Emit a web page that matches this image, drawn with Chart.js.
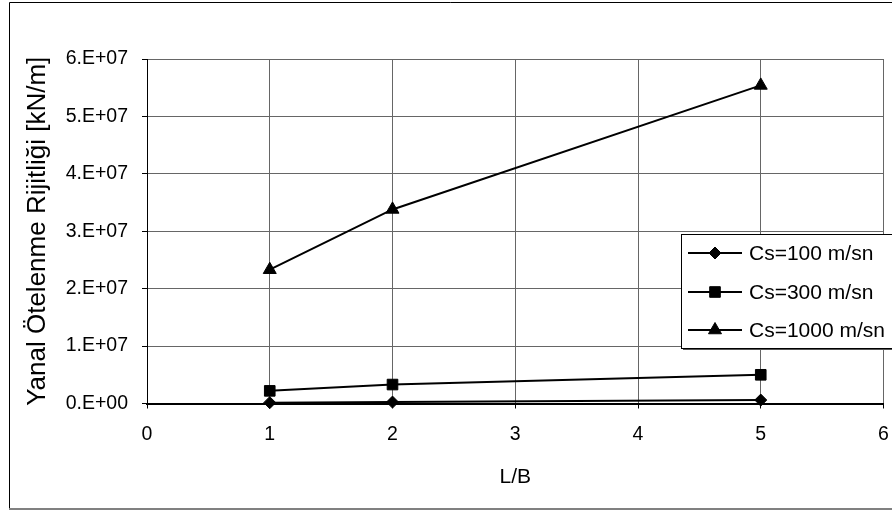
<!DOCTYPE html>
<html>
<head>
<meta charset="utf-8">
<script src="https://cdn.jsdelivr.net/npm/chart.js@4/dist/chart.umd.min.js"></script>
<style>
  html, body { margin: 0; padding: 0; background: #fff; }
  #wrap { width: 892px; height: 510px; position: relative; }
</style>
</head>
<body>
<div id="wrap"><canvas id="c" width="892" height="510"></canvas></div>
<script>
// L/B ratios on the x axis
const lbRatios = [1, 2, 5];
// Lateral translational stiffness [kN/m] for each shear-wave velocity
const cs100 = [1.5e5, 2.5e5, 6.0e5];
const cs300 = [2.2e6, 3.3e6, 5.0e6];
const cs1000 = [2.33e7, 3.38e7, 5.54e7];
const seriesLabels = ['Cs=100 m/sn', 'Cs=300 m/sn', 'Cs=1000 m/sn'];
const markerStyles = ['rectRot', 'rect', 'triangle'];
const markerRadii = [6, 7.5, 7.5];

const xTitle = 'L/B';
const yTitle = 'Yanal Ötelenme Rijitliği [kN/m]';

const FONT = '"Liberation Sans", Arial, sans-serif';

function toPoints(xs, ys) {
  return xs.map((x, i) => ({ x: x, y: ys[i] }));
}

function sciLabel(v) {
  if (v === 0) return '0.E+00';
  const exp = Math.floor(Math.log10(Math.abs(v)));
  const mant = Math.round(v / Math.pow(10, exp));
  return mant + '.E+' + String(exp).padStart(2, '0');
}

const seriesValues = [cs100, cs300, cs1000];
const datasets = seriesValues.map((vals, i) => ({
  label: seriesLabels[i],
  data: toPoints(lbRatios, vals),
  borderColor: '#000',
  backgroundColor: '#000',
  borderWidth: 2,
  pointStyle: markerStyles[i],
  pointRadius: markerRadii[i],
  pointBorderWidth: 1,
  pointBackgroundColor: '#000',
  pointBorderColor: '#000',
  tension: 0,
  fill: false,
  clip: false
}));

// Outer frame of the chart
const framePlugin = {
  id: 'frame',
  beforeDraw(chart) {
    const ctx = chart.ctx;
    ctx.save();
    ctx.fillStyle = '#fff';
    ctx.fillRect(0, 0, chart.width, chart.height);
    ctx.strokeStyle = '#000';
    ctx.lineWidth = 1;
    ctx.beginPath();
    ctx.moveTo(9.5, 510);
    ctx.lineTo(9.5, 2.5);
    ctx.lineTo(892, 2.5);
    ctx.stroke();
    ctx.strokeStyle = '#808080';
    ctx.lineWidth = 2;
    ctx.beginPath();
    ctx.moveTo(9, 509);
    ctx.lineTo(892, 509);
    ctx.stroke();
    ctx.restore();
  }
};

// Boxed legend sitting over the right side of the plot
const boxLegend = {
  id: 'boxLegend',
  afterDraw(chart) {
    const ctx = chart.ctx;
    const bx = 681, by = 234, bw = 260, bh = 114;
    ctx.save();
    ctx.fillStyle = '#fff';
    ctx.fillRect(bx, by, bw, bh);
    ctx.strokeStyle = '#000';
    ctx.lineWidth = 1;
    ctx.strokeRect(bx + 0.5, by + 0.5, bw, bh);
    ctx.fillStyle = '#555';
    ctx.fillRect(bx + 2, by + bh + 1, bw, 1);
    const rows = [253, 292, 330];
    chart.data.datasets.forEach((ds, i) => {
      const y = rows[i];
      ctx.strokeStyle = ds.borderColor;
      ctx.lineWidth = ds.borderWidth;
      ctx.beginPath();
      ctx.moveTo(688, y);
      ctx.lineTo(742, y);
      ctx.stroke();
      ctx.fillStyle = ds.pointBackgroundColor;
      ctx.strokeStyle = ds.pointBorderColor;
      ctx.lineWidth = 1;
      Chart.helpers.drawPoint(ctx, {
        pointStyle: ds.pointStyle,
        radius: ds.pointRadius,
        rotation: 0,
        borderWidth: 1
      }, 715, y);
      ctx.fillStyle = '#000';
      ctx.font = '21px ' + FONT;
      ctx.textBaseline = 'middle';
      ctx.textAlign = 'left';
      ctx.fillText(ds.label, 749, y + 1);
    });
    ctx.restore();
  }
};

new Chart(document.getElementById('c'), {
  type: 'line',
  data: { datasets: datasets },
  options: {
    responsive: false,
    animation: false,
    devicePixelRatio: 1,
    layout: { padding: { top: 59, right: 1, left: 0, bottom: 0 } },
    plugins: {
      legend: { display: false },
      tooltip: { enabled: false }
    },
    scales: {
      x: {
        type: 'linear',
        min: 0,
        max: 6,
        ticks: {
          stepSize: 1,
          color: '#000',
          padding: 14,
          font: { family: FONT, size: 19.5 },
          maxRotation: 0
        },
        grid: {
          color: '#666',
          lineWidth: 1,
          drawTicks: true,
          tickLength: 5,
          tickColor: '#000'
        },
        border: { color: '#000', width: 2 },
        title: {
          display: true,
          text: xTitle,
          color: '#000',
          font: { family: FONT, size: 21 },
          padding: { top: 0, bottom: 20 }
        },
        afterFit(scale) {
          scale.height = 106.5;
          scale.paddingLeft = 0;
          scale.paddingRight = 0;
        }
      },
      y: {
        type: 'linear',
        min: 0,
        max: 6e7,
        ticks: {
          stepSize: 1e7,
          color: '#000',
          padding: 14,
          font: { family: FONT, size: 19.5 },
          callback: (v) => sciLabel(v)
        },
        grid: {
          color: '#666',
          lineWidth: 1,
          drawTicks: true,
          tickLength: 5,
          tickColor: '#000'
        },
        border: { color: '#000', width: 1 },
        title: {
          display: true,
          text: yTitle,
          color: '#000',
          font: { family: FONT, size: 26 },
          padding: { top: 22, bottom: 0 }
        },
        afterFit(scale) {
          scale.width = 147;
          scale.paddingTop = 0;
          scale.paddingBottom = 0;
        }
      }
    }
  },
  plugins: [framePlugin, boxLegend]
});
</script>
</body>
</html>
